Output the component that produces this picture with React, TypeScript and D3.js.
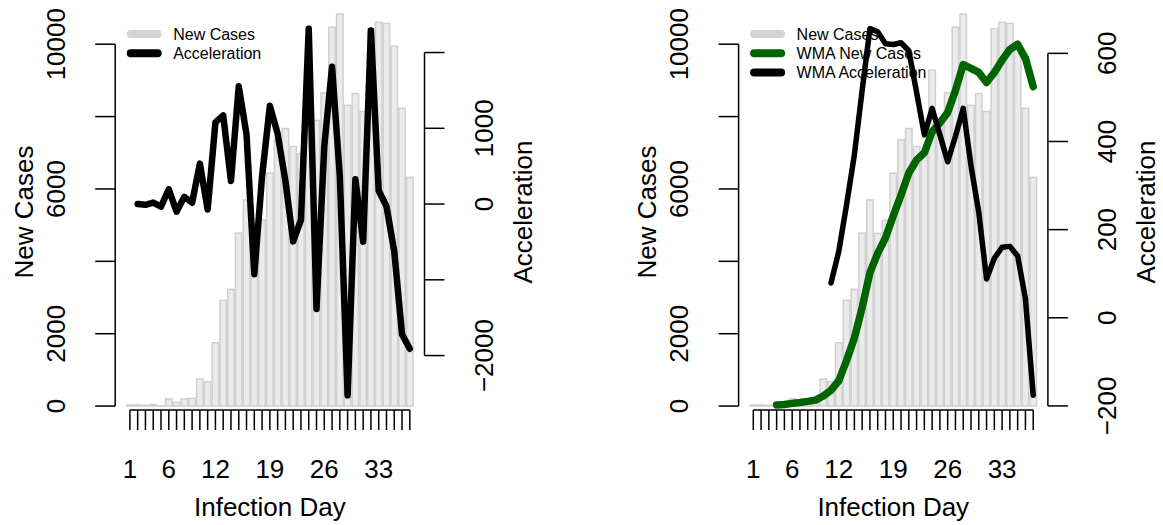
import React from "react";
import * as d3 from "d3";

// ---------- data ----------
const days = [1, 2, 3, 4, 5, 6, 7, 8, 9, 10, 11, 12, 13, 14, 15, 16, 17, 18, 19, 20, 21, 22, 23, 24, 25, 26, 27, 28, 29, 30, 31, 32, 33, 34, 35, 36, 37];
const newCases = [30, 30, 20, 40, 5, 200, 100, 195, 212, 745, 672, 1750, 2920, 3225, 4780, 5697, 4772, 5138, 6435, 7364, 7668, 7175, 6965, 9280, 7895, 8658, 10470, 10835, 8310, 8636, 8140, 10430, 10605, 10575, 9950, 8230, 6320];

const accDays = [2, 3, 4, 5, 6, 7, 8, 9, 10, 11, 12, 13, 14, 15, 16, 17, 18, 19, 20, 21, 22, 23, 24, 25, 26, 27, 28, 29, 30, 31, 32, 33, 34, 35, 36, 37];
const acceleration = [0, -10, 20, -35, 195, -100, 95, 17, 533, -73, 1078, 1170, 305, 1555, 917, -925, 366, 1297, 929, 304, -493, -210, 2315, -1385, 763, 1812, 365, -2525, 326, -496, 2290, 175, -30, -625, -1720, -1910];

const wmaDays = [4, 5, 6, 7, 8, 9, 10, 11, 12, 13, 14, 15, 16, 17, 18, 19, 20, 21, 22, 23, 24, 25, 26, 27, 28, 29, 30, 31, 32, 33, 34, 35, 36, 37];
const wmaNewCases = [28, 45, 75, 100, 130, 165, 280, 440, 700, 1260, 1880, 2720, 3690, 4220, 4650, 5250, 5830, 6440, 6800, 7000, 7580, 7830, 8110, 8720, 9440, 9330, 9220, 8940, 9220, 9560, 9860, 10000, 9610, 8830];

const wmaAccDays = [11, 12, 13, 14, 15, 16, 17, 18, 19, 20, 21, 22, 23, 24, 25, 26, 27, 28, 29, 30, 31, 32, 33, 34, 35, 36, 37];
const wmaAcceleration = [79, 151, 257, 370, 516, 656, 649, 622, 620, 624, 606, 512, 415, 475, 415, 354, 412, 475, 345, 239, 88, 135, 160, 162, 140, 43, -176];

const casesTicks = [0, 2000, 4000, 6000, 8000, 10000];
const casesTickLabels = ["0", "2000", "", "6000", "", "10000"];
const accTicks = [-2000, -1000, 0, 1000, 2000];
const accTickLabels = ["\u22122000", "", "0", "1000", ""];
const wmaAccTicks = [-200, 0, 200, 400, 600];
const wmaAccTickLabels = ["\u2212200", "0", "200", "400", "600"];
const dayLabelTicks = [1, 6, 12, 19, 26, 33];

// ---------- layout / style ----------
const W = 1163;
const H = 525;
const FONT = "'Liberation Sans', Arial, Helvetica, sans-serif";
const PLOT_TOP = 14;
const PLOT_BOTTOM = 410;
const PLOT_W = 309.3;
const TICK = 20;
const AX_FS = 26;
const LEG_FS = 16;
const BAR_FILL = "#ebebeb";
const BAR_STROKE = "#d0d0d0";
const GREEN = "#006400";

type Series = { xs: number[]; ys: number[]; color: string; width: number; scale: "cases" | "acc" };
type LegendItem = { label: string; color: string };

function rotatedLabel(cx: number, cy: number, text: string, fs: number, key?: string | number) {
  const capH = fs * 0.716;
  return (
    <text
      key={key}
      transform={`translate(${cx + capH / 2},${cy}) rotate(-90)`}
      textAnchor="middle"
      fontSize={fs}
      fontFamily={FONT}
      fill="#000"
    >
      {text}
    </text>
  );
}

function Panel(props: {
  x0: number;
  accData: number[];
  rTicks: number[];
  rLabels: string[];
  series: Series[];
  legend: LegendItem[];
}) {
  const { x0, accData, rTicks, rLabels, series, legend } = props;
  const n = newCases.length;
  const xl = 0.2;
  const xr = 0.2 + 1.2 * (n - 1) + 1;
  const ext = (xr - xl) * 0.04;
  const x = d3.scaleLinear().domain([xl - ext, xr + ext]).range([x0, x0 + PLOT_W]);
  const maxC = d3.max(newCases) as number;
  const yC = d3.scaleLinear().domain([-0.01 * maxC, maxC]).range([PLOT_BOTTOM, PLOT_TOP]);
  const [amin, amax] = d3.extent(accData) as [number, number];
  const aext = (amax - amin) * 0.04;
  const yA = d3.scaleLinear().domain([amin - aext, amax + aext]).range([PLOT_BOTTOM, PLOT_TOP]);
  const mid = (d: number) => x(0.2 + 1.2 * (d - 1) + 0.5);
  const xRight = x0 + PLOT_W;

  const lineGen = (scale: d3.ScaleLinear<number, number>) =>
    d3
      .line<[number, number]>()
      .x((p) => mid(p[0]))
      .y((p) => scale(p[1]));

  const capH = AX_FS * 0.716;
  const legCap = LEG_FS * 0.716;
  const legX = x0 + 11.5;

  return (
    <g>
      {/* bars */}
      {days.map((d, i) => {
        const l = 0.2 + 1.2 * i;
        const v = newCases[i];
        return (
          <rect
            key={d}
            x={x(l)}
            y={yC(v)}
            width={x(l + 1) - x(l)}
            height={yC(0) - yC(v)}
            fill={BAR_FILL}
            stroke={BAR_STROKE}
            strokeWidth={1.5}
          />
        );
      })}

      {/* legend */}
      {legend.map((it, i) => {
        const cy = 34 + i * 19.3;
        return (
          <g key={it.label}>
            <line x1={legX + 4} x2={legX + 31} y1={cy} y2={cy} stroke={it.color} strokeWidth={8} strokeLinecap="round" />
            <text x={x0 + 58} y={cy + legCap / 2} fontSize={LEG_FS} fontFamily={FONT} fill="#000">
              {it.label}
            </text>
          </g>
        );
      })}

      {/* lines */}
      {series.map((s, i) => {
        const pts = s.xs.map((d, j) => [d, s.ys[j]] as [number, number]);
        const path = lineGen(s.scale === "cases" ? yC : yA)(pts) || "";
        return (
          <path
            key={i}
            d={path}
            fill="none"
            stroke={s.color}
            strokeWidth={s.width}
            strokeLinejoin="round"
            strokeLinecap="round"
          />
        );
      })}

      {/* left axis */}
      <line x1={x0} x2={x0} y1={yC(casesTicks[0])} y2={yC(casesTicks[casesTicks.length - 1])} stroke="#000" strokeWidth={1.5} />
      {casesTicks.map((t, i) => (
        <g key={t}>
          <line x1={x0 - TICK} x2={x0} y1={yC(t)} y2={yC(t)} stroke="#000" strokeWidth={1.5} />
          {casesTickLabels[i] ? rotatedLabel(x0 - 60, yC(t), casesTickLabels[i], AX_FS) : null}
        </g>
      ))}
      {rotatedLabel(x0 - 92, (PLOT_TOP + PLOT_BOTTOM) / 2, "New Cases", AX_FS)}

      {/* right axis */}
      <line x1={xRight} x2={xRight} y1={yA(rTicks[0])} y2={yA(rTicks[rTicks.length - 1])} stroke="#000" strokeWidth={1.5} />
      {rTicks.map((t, i) => (
        <g key={t}>
          <line x1={xRight} x2={xRight + TICK} y1={yA(t)} y2={yA(t)} stroke="#000" strokeWidth={1.5} />
          {rLabels[i] ? rotatedLabel(xRight + 59, yA(t), rLabels[i], AX_FS) : null}
        </g>
      ))}
      {rotatedLabel(xRight + 98, (PLOT_TOP + PLOT_BOTTOM) / 2, "Acceleration", AX_FS)}

      {/* x axis */}
      <line x1={mid(days[0])} x2={mid(days[days.length - 1])} y1={PLOT_BOTTOM} y2={PLOT_BOTTOM} stroke="#000" strokeWidth={1.5} />
      {days.map((d) => (
        <line key={d} x1={mid(d)} x2={mid(d)} y1={PLOT_BOTTOM} y2={PLOT_BOTTOM + TICK} stroke="#000" strokeWidth={1.5} />
      ))}
      {dayLabelTicks.map((d) => (
        <text key={d} x={mid(d)} y={469 + capH / 2} textAnchor="middle" fontSize={AX_FS} fontFamily={FONT} fill="#000">
          {String(d)}
        </text>
      ))}
      <text x={(x0 + xRight) / 2} y={507 + capH / 2} textAnchor="middle" fontSize={AX_FS} fontFamily={FONT} fill="#000">
        Infection Day
      </text>
    </g>
  );
}

export default function App() {
  return (
    <svg
      width={W}
      height={H}
      viewBox={`0 0 ${W} ${H}`}
      style={{ position: "absolute", left: 0, top: 0, background: "#fff" }}
    >
      <rect x={0} y={0} width={W} height={H} fill="#fff" />
      <Panel
        x0={115.2}
        accData={acceleration}
        rTicks={accTicks}
        rLabels={accTickLabels}
        series={[{ xs: accDays, ys: acceleration, color: "#000", width: 6.5, scale: "acc" }]}
        legend={[
          { label: "New Cases", color: "#d3d3d3" },
          { label: "Acceleration", color: "#000" },
        ]}
      />
      <Panel
        x0={738.6}
        accData={wmaAcceleration}
        rTicks={wmaAccTicks}
        rLabels={wmaAccTickLabels}
        series={[
          { xs: wmaDays, ys: wmaNewCases, color: GREEN, width: 7.5, scale: "cases" },
          { xs: wmaAccDays, ys: wmaAcceleration, color: "#000", width: 5.5, scale: "acc" },
        ]}
        legend={[
          { label: "New Cases", color: "#d3d3d3" },
          { label: "WMA New Cases", color: GREEN },
          { label: "WMA Acceleration", color: "#000" },
        ]}
      />
    </svg>
  );
}
